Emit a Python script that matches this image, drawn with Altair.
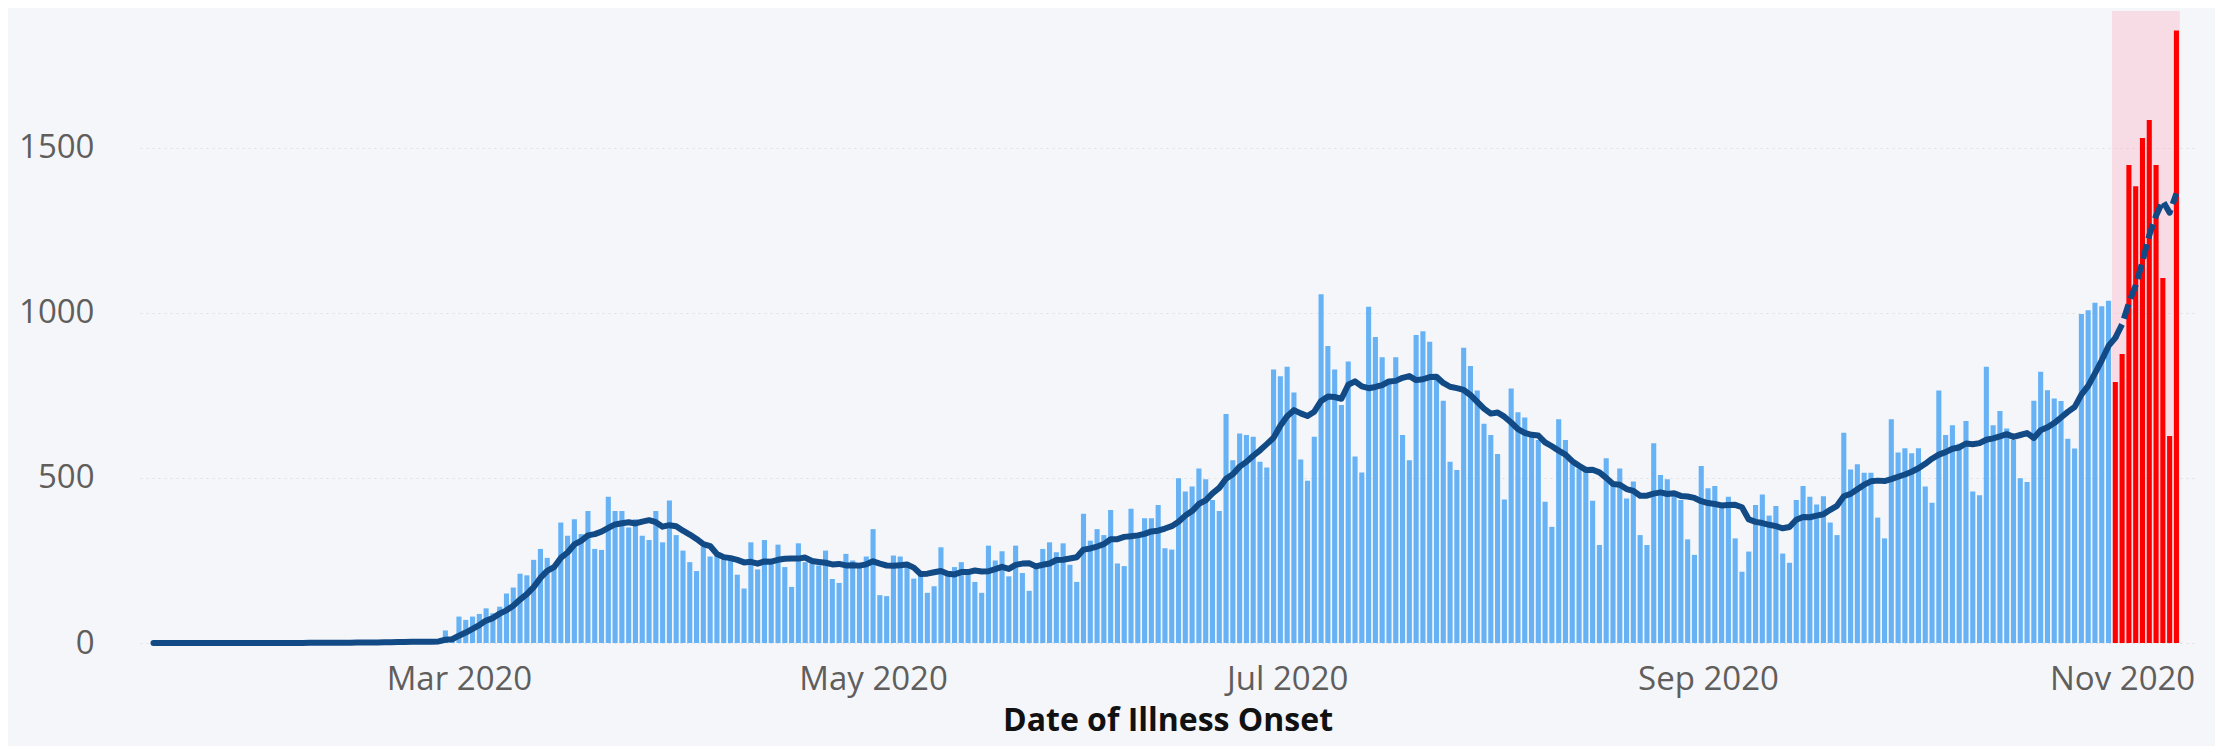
import altair as alt
import pandas as pd

# Daily cases by date of illness onset
jan = [0, 0, 0, 0, 0, 0, 1, 0, 0, 0, 1, 0, 0, 1, 0, 0]  # Jan 16-31
feb = [0, 1, 0, 0, 1, 0, 0, 1, 1, 0, 1, 1, 2, 1, 2, 2, 3, 2, 3, 4,
       3, 4, 5, 4, 3, 5, 10, 38, 15]
mar = [80, 70, 80, 88, 105, 90, 110, 150, 168, 210, 205, 252, 285, 258, 230,
       365, 325, 375, 330, 400, 285, 282, 443, 400, 400, 350, 375, 325, 312, 400, 305]
apr = [432, 327, 280, 245, 218, 292, 262, 265, 260, 258, 207, 165, 305, 223, 312,
       255, 298, 230, 170, 302, 245, 240, 235, 280, 194, 182, 270, 250, 230, 262]
may = [345, 145, 142, 265, 262, 245, 195, 210, 152, 172, 290, 205, 230, 245, 210,
       185, 152, 295, 250, 278, 202, 295, 212, 158, 230, 285, 305, 275, 302, 237, 185]
jun = [392, 310, 345, 327, 403, 241, 233, 407, 327, 378, 378, 418, 287, 283, 499,
       459, 474, 529, 496, 433, 400, 694, 554, 635, 630, 625, 549, 532, 829, 808]
jul = [837, 759, 556, 492, 625, 1057, 900, 829, 721, 853, 565, 517, 1019, 927, 866,
       800, 866, 630, 554, 933, 945, 913, 807, 734, 549, 524, 895, 839, 765, 664, 630]
aug = [573, 435, 771, 699, 683, 625, 615, 428, 352, 678, 615, 544, 529, 526, 431,
       297, 560, 484, 529, 438, 489, 327, 297, 605, 509, 496, 453, 433, 314, 267, 536]
sep = [469, 476, 423, 443, 317, 216, 277, 418, 450, 386, 415, 271, 243, 433, 476,
       443, 420, 445, 365, 327, 637, 526, 542, 516, 516, 380, 317, 678, 577, 590]
oct_ = [575, 590, 474, 425, 765, 630, 660, 604, 673, 459, 448, 837, 660, 703, 650,
        615, 499, 488, 734, 822, 766, 741, 733, 619, 589, 997, 1008, 1031, 1020, 1037, 791]
nov = [876, 1448, 1384, 1530, 1585, 1448, 1106, 627, 1856]

values = jan + feb + mar + apr + may + jun + jul + aug + sep + oct_ + nov
dates = pd.date_range("2020-01-16", "2020-11-09", freq="D")
recent_start = "2020-10-31"

df = pd.DataFrame({"date": dates.strftime("%Y-%m-%d"), "cases": values})
df["recent"] = df["date"] >= recent_start
df["solid"] = df["date"] <= recent_start
df["dashed"] = df["date"] >= recent_start

shade = pd.DataFrame({"start": ["2020-10-30T12:00:00Z"], "end": ["2020-11-09T12:00:00Z"]})

x_ticks = [alt.DateTime(year=2020, month=m, date=1, utc=True) for m in (3, 5, 7, 9, 11)]
y_ticks = [0, 500, 1000, 1500]

xscale = alt.Scale(type="utc", domain=[alt.DateTime(year=2020, month=1, date=14, hours=18, utc=True),
                                       alt.DateTime(year=2020, month=11, date=11, utc=True)])
yscale = alt.Scale(domain=[0, 1915], nice=False, zero=True)

W, H = 2055, 632
label_color = "#605E5C"

x_axis = alt.Axis(values=x_ticks, labelExpr="utcFormat(datum.value, '%b %Y')", grid=False, ticks=False,
                  domain=False, labelFontSize=33, labelColor=label_color, labelPadding=20,
                  title="Date of Illness Onset", titleFontSize=32, titleFontWeight="bold",
                  titleColor="#111111", titlePadding=9)
y_axis = alt.Axis(values=y_ticks, format="d", grid=True, gridColor="#e0e0e0", gridDash=[2, 4], ticks=False,
                  domain=False, labelFontSize=33, labelColor=label_color, labelPadding=46, title="")

X = lambda f: alt.X(f, scale=xscale, axis=x_axis)
Y = lambda f: alt.Y(f, scale=yscale, axis=y_axis)

rect = alt.Chart(shade).mark_rect(color="#ff9fb5", opacity=0.3).encode(
    x=X("start:T"),
    x2="end:T",
    y=alt.value(0),
    y2=alt.value(H),
)

bars = alt.Chart(df).mark_bar(size=5.1).encode(
    x=X("date:T"),
    y=Y("cases:Q"),
    color=alt.condition(alt.datum.recent, alt.value("#FF0000"), alt.value("#66B2F5")),
)

line_base = alt.Chart(df).transform_window(
    ma="mean(cases)", frame=[-6, 0], sort=[alt.SortField("date", order="ascending")]
)

line_solid = line_base.transform_filter(alt.datum.solid).mark_line(
    color="#124A86", strokeWidth=6, strokeCap="round", strokeJoin="round"
).encode(x=X("date:T"), y=Y("ma:Q"))

line_dashed = line_base.transform_filter(alt.datum.dashed).mark_line(
    color="#124A86", strokeWidth=6, strokeDash=[15, 6], strokeJoin="round"
).encode(x=X("date:T"), y=Y("ma:Q"))

chart = alt.layer(rect, bars, line_solid, line_dashed).properties(
    width=W, height=H,
    autosize=alt.AutoSizeParams(type="none"),
    padding={"left": 132, "top": 3, "right": 20, "bottom": 103},
    background="#F5F6F9",
).configure(font="Open Sans").configure_view(strokeWidth=0)

chart.save("out.html", embed_options={"renderer": "svg", "actions": False})
